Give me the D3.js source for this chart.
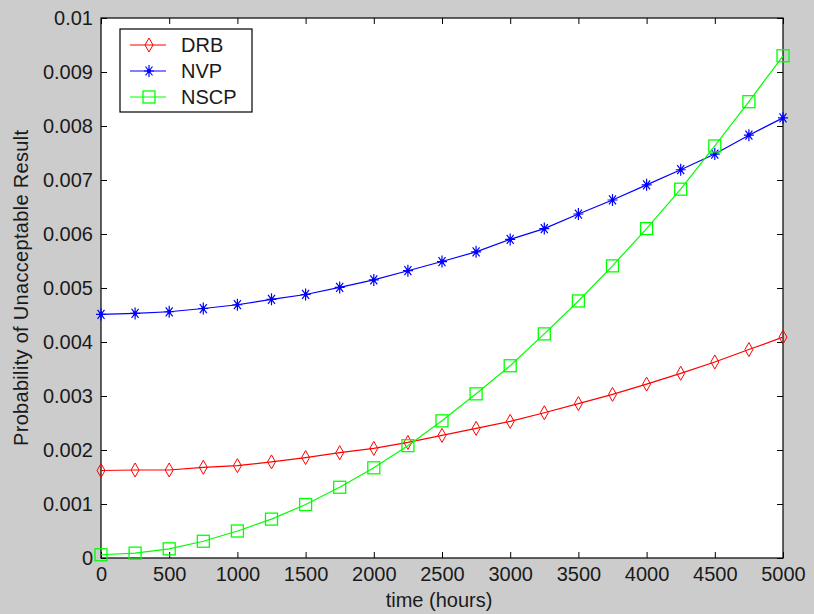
<html lang="en">
<head>
<meta charset="UTF-8">
<title>Probability of Unacceptable Result</title>
<style>
  body { margin: 0; background: #cccccc; }
  text { font-family: "Liberation Sans", Arial, sans-serif; }
</style>
</head>
<body>
<script src="https://d3js.org/d3.v7.min.js"></script>
<script>
const hours = [0, 250, 500, 750, 1000, 1250, 1500, 1750, 2000, 2250, 2500,
               2750, 3000, 3250, 3500, 3750, 4000, 4250, 4500, 4750, 5000]

const drb = [0.00162, 0.00163, 0.00163, 0.00168, 0.00171, 0.00178, 0.00186, 0.00195, 0.00203, 0.00214, 0.00227,
             0.00240, 0.00253, 0.00269, 0.00286, 0.00303, 0.00322, 0.00342, 0.00363, 0.00386, 0.00409]
const nvp = [0.00451, 0.00453, 0.00456, 0.00462, 0.00469, 0.00479, 0.00488, 0.00501, 0.00515, 0.00532, 0.00549,
             0.00567, 0.00590, 0.00610, 0.00637, 0.00663, 0.00691, 0.00719, 0.00748, 0.00783, 0.00815]
const nscp = [0.00006, 0.00009, 0.00017, 0.00031, 0.00050, 0.00072, 0.00099, 0.00131, 0.00167, 0.00208, 0.00254,
              0.00304, 0.00356, 0.00415, 0.00476, 0.00541, 0.00610, 0.00683, 0.00763, 0.00845, 0.00930]

const xTicks = [0, 500, 1000, 1500, 2000, 2500, 3000, 3500, 4000, 4500, 5000]
const yTicks = [0, 0.001, 0.002, 0.003, 0.004, 0.005, 0.006, 0.007, 0.008, 0.009, 0.01]
const yTickLabels = ['0', '0.001', '0.002', '0.003', '0.004', '0.005', '0.006', '0.007', '0.008', '0.009', '0.01']

const series = [
    { name: 'DRB', values: drb, color: '#ff0000', marker: 'diamond' },
    { name: 'NVP', values: nvp, color: '#0000ff', marker: 'star' },
    { name: 'NSCP', values: nscp, color: '#00ff00', marker: 'square' }
]

const m = { width: 814, height: 614, left: 101, right: 783, top: 18, bottom: 558 }

const svg = d3.select('body').append('svg')
    .attr('width', m.width)
    .attr('height', m.height)

svg.append('rect')
    .attr('width', m.width).attr('height', m.height)
    .attr('fill', '#cccccc')

const x = d3.scaleLinear().domain([0, 5000]).range([m.left, m.right])
const y = d3.scaleLinear().domain([0, 0.01]).range([m.bottom, m.top])

svg.append('rect')
    .attr('x', m.left).attr('y', m.top)
    .attr('width', m.right - m.left).attr('height', m.bottom - m.top)
    .attr('fill', '#ffffff')

// axes: ticks point inward on all four sides
const tick = 6
function styleAxis(g) {
    g.select('.domain').remove()
    g.selectAll('line').attr('stroke', '#000')
    g.selectAll('text').attr('font-size', 20).attr('fill', '#1a1a1a')
        .style('font-family', '"Liberation Sans", Arial, sans-serif')
}

svg.append('g')
    .attr('transform', `translate(0,${m.bottom})`)
    .call(d3.axisBottom(x).tickValues(xTicks).tickSize(-tick).tickPadding(9).tickFormat(d3.format('d')))
    .call(styleAxis)

svg.append('g')
    .attr('transform', `translate(0,${m.top})`)
    .call(d3.axisTop(x).tickValues(xTicks).tickSize(-tick).tickFormat(''))
    .call(styleAxis)

svg.append('g')
    .attr('transform', `translate(${m.left},0)`)
    .call(d3.axisLeft(y).tickValues(yTicks).tickSize(-tick).tickPadding(8)
        .tickFormat((d, i) => yTickLabels[i]))
    .call(styleAxis)

svg.append('g')
    .attr('transform', `translate(${m.right},0)`)
    .call(d3.axisRight(y).tickValues(yTicks).tickSize(-tick).tickFormat(''))
    .call(styleAxis)

svg.append('rect')
    .attr('x', m.left).attr('y', m.top)
    .attr('width', m.right - m.left).attr('height', m.bottom - m.top)
    .attr('fill', 'none').attr('stroke', '#000').attr('stroke-width', 1.2)

// markers
function drawMarker(g, type, color) {
    if (type === 'diamond') {
        g.append('path').attr('d', 'M0,-7L4,0L0,7L-4,0Z')
            .attr('fill', 'none').attr('stroke', color).attr('stroke-width', 1)
    } else if (type === 'square') {
        g.append('rect').attr('x', -6).attr('y', -6).attr('width', 12).attr('height', 12)
            .attr('fill', 'none').attr('stroke', color).attr('stroke-width', 1.3)
    } else {
        g.append('path')
            .attr('d', 'M0,-6V6M-5,0H5M-3.5,-4.5L3.5,4.5M-3.5,4.5L3.5,-4.5')
            .attr('stroke', color).attr('stroke-width', 1.2)
        g.append('circle').attr('r', 2).attr('fill', color)
    }
}

const line = d3.line()
    .x((d, i) => x(hours[i]))
    .y(d => y(d))

const plot = svg.append('g')

series.forEach(s => {
    plot.append('path')
        .datum(s.values)
        .attr('d', line)
        .attr('fill', 'none')
        .attr('stroke', s.color)
        .attr('stroke-width', 1.2)

    plot.selectAll('.m-' + s.name)
        .data(s.values)
        .enter()
        .append('g')
            .attr('class', 'm-' + s.name)
            .attr('transform', (d, i) => `translate(${x(hours[i])},${y(d)})`)
            .each(function() { drawMarker(d3.select(this), s.marker, s.color) })
})

// legend
const legend = svg.append('g').attr('transform', 'translate(120,29)')
legend.append('rect')
    .attr('width', 132).attr('height', 83)
    .attr('fill', '#fff').attr('stroke', '#000').attr('stroke-width', 1.2)

series.forEach((s, i) => {
    const ly = 16 + i * 26
    legend.append('line')
        .attr('x1', 10).attr('x2', 46).attr('y1', ly).attr('y2', ly)
        .attr('stroke', s.color).attr('stroke-width', 1.2)
    drawMarker(legend.append('g').attr('transform', `translate(29,${ly})`), s.marker, s.color)
    legend.append('text')
        .attr('x', 61).attr('y', ly + 7)
        .attr('font-size', 20)
        .attr('fill', '#1a1a1a')
        .text(s.name)
})

// axis labels
svg.append('text')
    .attr('x', 439).attr('y', 607)
    .attr('text-anchor', 'middle')
    .attr('font-size', 20)
    .attr('fill', '#1a1a1a')
    .text('time (hours)')

svg.append('text')
    .attr('transform', `translate(28,288) rotate(-90)`)
    .attr('text-anchor', 'middle')
    .attr('font-size', 20)
    .attr('fill', '#1a1a1a')
    .attr('textLength', 316)
    .attr('lengthAdjust', 'spacing')
    .text('Probability of Unacceptable Result')
</script>
</body>
</html>
